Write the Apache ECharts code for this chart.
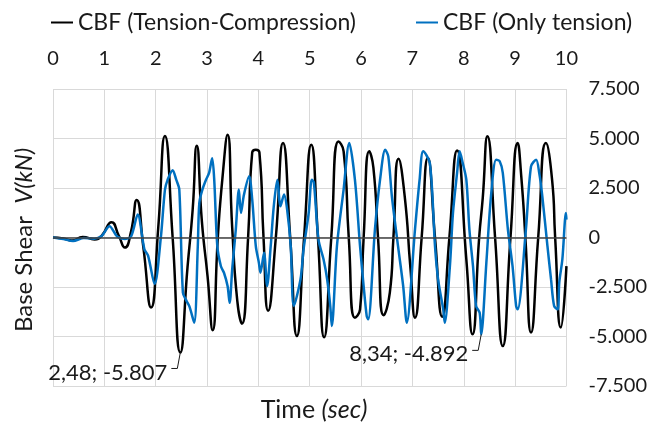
<!DOCTYPE html>
<html><head><meta charset="utf-8">
<script src="https://cdn.jsdelivr.net/npm/echarts@6/dist/echarts.min.js"></script>
<style>html,body{margin:0;padding:0;background:#fff}#c{width:650px;height:430px}</style>
</head><body><div id="c"></div>
<script>
const FONT = 'Lato';
const seriesNames = ['CBF (Tension-Compression)', 'CBF (Only tension)'];

// Black: Tension-Compression
const timeTC = [
  0, 0.2, 0.37, 0.58, 0.81, 0.95, 1.14, 1.28, 1.4, 1.52,
  1.63, 1.76, 1.91, 2.05, 2.18, 2.33, 2.48, 2.62, 2.72, 2.8,
  2.9, 3.01, 3.11, 3.21, 3.3, 3.4, 3.49, 3.59, 3.68, 3.8,
  3.88, 3.95, 4.02, 4.1, 4.19, 4.34, 4.48, 4.62, 4.75, 4.89,
  5.03, 5.16, 5.28, 5.42, 5.56, 5.66, 5.76, 5.88, 5.98, 6.05,
  6.16, 6.24, 6.33, 6.44, 6.56, 6.63, 6.73, 6.85, 6.96, 7.05,
  7.18, 7.3, 7.44, 7.58, 7.72, 7.87, 8.05, 8.17, 8.3, 8.37,
  8.46, 8.61, 8.76, 8.91, 9.05, 9.12, 9.2, 9.31, 9.45, 9.6,
  9.72, 9.78, 9.89, 10
];
const shearTC = [
  0, -50, -150, 30, -100, 100, 770, 100, -510, 300,
  1900, -500, -3540, 500, 5120, 0, -5807, -1500, 1400, 4640,
  800, -1950, -4680, 0, 3000, 5190, 500, -3210, -4350, 0,
  4300, 4435, 4300, 0, -3700, 0, 4770, 0, -4970, 0,
  4690, 0, -5040, 0, 4850, 4350, 0, -4050, -3630, 0,
  4350, 3530, 0, -3930, -2780, 0, 3980, 2080, -1500, -4050,
  0, 4015, 0, -4000, 0, 4400, -1100, -4890, 0, 2000,
  5110, 0, -5480, 0, 4770, 3090, 0, -4800, 0, 4770,
  2920, 0, -4550, -1445
];

// Blue: Only tension
const timeOT = [
  0, 0.2, 0.39, 0.6, 0.8, 0.95, 1.1, 1.25, 1.4, 1.52,
  1.65, 1.78, 1.85, 1.98, 2.1, 2.18, 2.23, 2.33, 2.4, 2.46,
  2.53, 2.6, 2.66, 2.75, 2.82, 2.85, 2.91, 2.98, 3.04, 3.1,
  3.14, 3.2, 3.27, 3.33, 3.4, 3.44, 3.49, 3.56, 3.62, 3.66,
  3.72, 3.82, 3.88, 3.95, 4.01, 4.04, 4.11, 4.17, 4.24, 4.3,
  4.37, 4.43, 4.5, 4.56, 4.63, 4.69, 4.82, 4.88, 4.98, 5.04,
  5.08, 5.17, 5.27, 5.34, 5.4, 5.43, 5.53, 5.66, 5.77, 5.88,
  5.98, 6.05, 6.11, 6.14, 6.27, 6.37, 6.47, 6.53, 6.6, 6.72,
  6.82, 6.89, 7.05, 7.14, 7.21, 7.34, 7.44, 7.5, 7.6, 7.63,
  7.73, 7.79, 7.87, 7.92, 7.98, 8.05, 8.11, 8.18, 8.24, 8.31,
  8.34, 8.44, 8.53, 8.63, 8.7, 8.76, 8.86, 8.95, 9.02, 9.05,
  9.21, 9.31, 9.41, 9.47, 9.53, 9.63, 9.7, 9.76, 9.83, 9.86,
  9.92, 9.99, 10
];
const shearOT = [
  0, -80, -180, -20, -60, 80, 570, 50, -70, 50,
  1160, -600, -900, -2350, 0, 2400, 2900, 3400, 2920, 2420,
  -2790, -3200, -3500, -4300, -440, 1750, 2420, 2920, 3260, 4000,
  2920, -440, -1450, -1780, -2450, -3300, -1610, 400, 2420, 1240,
  2170, 3090, 1910, -440, -1280, -1780, -770, -2450, -440, 1580,
  2920, 1580, 2170, 1410, -440, -3460, -2120, -600, 1240, 2920,
  2800, -100, -1110, -2120, -3460, -4470, -440, 2420, 4770, 2920,
  -440, -2450, -3970, -4130, 400, 2920, 4435, 4100, 2080, -440,
  -2450, -4300, 400, 2920, 4350, 3760, -440, -2120, -3630, -4300,
  -1450, 1240, 3260, 4350, 3760, 2920, 400, -1450, -3460, -3800,
  -4892, -1280, 2080, 3930, 3850, 3260, 400, -1450, -3460, -3630,
  400, 3590, 3930, 3260, 2080, -440, -2120, -3460, -3630, -2280,
  -1110, 1240, 900
];

// Annotated extremes
const annotTime = [2.48, 8.34];
const annotShear = [-5807, -4892];

const fmtThousands = v => {
  const s = Math.abs(v).toString().replace(/\B(?=(\d{3})+(?!\d))/g, '.');
  return (v < 0 ? '-' : '') + s;
};
const fmtDec = v => v.toFixed(2).replace('.', ',');

const tcData = timeTC.map((t, i) => [t, shearTC[i]]);
const otData = timeOT.map((t, i) => [t, shearOT[i]]);
const annData = annotTime.map((t, i) => [t, annotShear[i]]);

const TXT = '#1a1a1a';
const GRID = '#d9d9d9';

const chart = echarts.init(document.getElementById('c'));
chart.setOption({
  animation: false,
  textStyle: { fontFamily: FONT },
  legend: {
    data: seriesNames,
    top: 6, left: 46, itemGap: 60,
    icon: 'rect', itemWidth: 22, itemHeight: 2,
    textStyle: { fontSize: 23, color: TXT, fontFamily: FONT }
  },
  grid: { left: 53, right: 80, top: 89, bottom: 44 },
  xAxis: {
    type: 'value', position: 'top', min: 0, max: 10, interval: 1,
    axisLine: { show: false }, axisTick: { show: false },
    axisLabel: { fontSize: 20, color: TXT, margin: 20, fontFamily: FONT },
    splitLine: { show: true, lineStyle: { color: GRID, width: 1 } }
  },
  yAxis: {
    type: 'value', position: 'right', min: -7500, max: 7500, interval: 2500,
    axisLine: { show: false }, axisTick: { show: false },
    axisLabel: { fontSize: 20, color: TXT, margin: 22, formatter: fmtThousands, fontFamily: FONT },
    splitLine: { show: true, lineStyle: { color: GRID, width: 1 } }
  },
  graphic: [
    { type: 'text', x: 314, y: 410,
      style: { text: '{n|Time }{i|(sec)}', align: 'center', verticalAlign: 'middle',
        rich: { n: { fontSize: 25, fontFamily: FONT, fill: TXT }, i: { fontSize: 25, fontFamily: FONT, fontStyle: 'italic', fill: TXT } } } },
    { type: 'text', x: 24, y: 240, rotation: Math.PI / 2,
      style: { text: '{n|Base Shear  }{i|V(kN)}', align: 'center', verticalAlign: 'middle',
        rich: { n: { fontSize: 24, fontFamily: FONT, fill: TXT }, i: { fontSize: 24, fontFamily: FONT, fontStyle: 'italic', fill: TXT } } } }
  ],
  series: [
    { name: seriesNames[0], type: 'line', data: tcData, showSymbol: false, smooth: 0.55,
      lineStyle: { color: '#000000', width: 2.5 }, itemStyle: { color: '#000000' }, z: 2,
      markLine: { silent: true, symbol: 'none', label: { show: false },
        lineStyle: { color: '#404040', width: 1.5, type: 'solid' }, data: [{ yAxis: 0 }] } },
    { name: seriesNames[1], type: 'line', data: otData, showSymbol: false, smooth: 0.3,
      lineStyle: { color: '#0070C0', width: 2.5 }, itemStyle: { color: '#0070C0' }, z: 3 },
    { name: 'annot', type: 'custom', data: annData, z: 5, silent: true,
      renderItem: (params, api) => {
        const p = api.coord([api.value(0), api.value(1)]);
        const yH = p[1] + 16;
        return { type: 'group', children: [
          { type: 'polyline', shape: { points: [[p[0], p[1]], [p[0] - 3, yH], [p[0] - 9, yH]] },
            style: { stroke: TXT, lineWidth: 1, fill: null } },
          { type: 'text', style: { x: p[0] - 13, y: p[1] + 20,
              text: fmtDec(api.value(0)) + '; ' + fmtThousands(api.value(1)),
              align: 'right', verticalAlign: 'middle', fontSize: 22, fontFamily: FONT, fill: TXT } }
        ] };
      } }
  ]
});
</script></body></html>
